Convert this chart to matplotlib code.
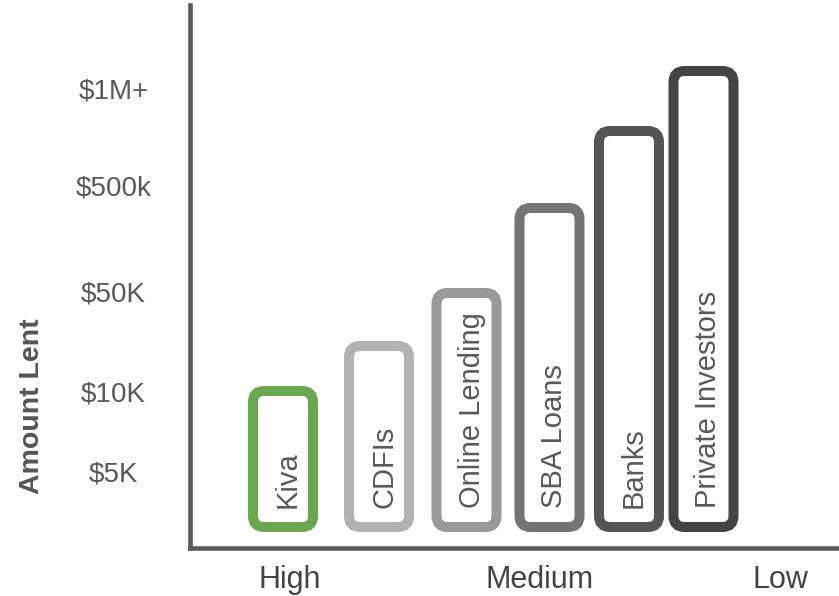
import matplotlib
matplotlib.use('Agg')
import matplotlib.pyplot as plt
from matplotlib.patches import FancyBboxPatch

# Lenders, ordered from most to least accessible
lenders = ['Kiva', 'CDFIs', 'Online Lending', 'SBA Loans', 'Banks', 'Private Investors']
# bar centres and tops, in the chart's own units (axis is 0 at the x-axis line)
bar_x = [0.93, 1.89, 2.765, 3.595, 4.39, 5.135]
bar_top = [1.57, 2.02, 2.55, 3.40, 4.17, 4.77]
bar_base = 0.21
bar_w = 0.60
colors = ['#6aa84f', '#b2b2b2', '#999999', '#747474', '#555555', '#444444']

ytick_pos = [0.76, 1.57, 2.57, 3.63, 4.60]
ytick_labels = ['$5K', '$10K', '$50K', '$500k', '$1M+']
xtick_pos = [1.00, 3.50, 5.90]
xtick_labels = ['High', 'Medium', 'Low']

plt.rcParams['font.family'] = ['Liberation Sans', 'DejaVu Sans']
txt = '#595959'

fig = plt.figure(figsize=(8.39, 5.96), dpi=100)
ax = fig.add_axes([190 / 839, 48 / 596, 649 / 839, 543 / 596])
ax.set_xlim(0, 6.49)
ax.set_ylim(0, 5.43)

for name, x, top, c in zip(lenders, bar_x, bar_top, colors):
    box = FancyBboxPatch((x - bar_w / 2, bar_base), bar_w, top - bar_base,
                         boxstyle='round,pad=0,rounding_size=0.11',
                         fc='white', ec=c, lw=7.2, zorder=2)
    ax.add_patch(box)
    ax.text(x + 0.05, bar_base + 0.19, name, rotation=90, rotation_mode='anchor',
            ha='left', va='center', fontsize=21, color=txt, zorder=3)

for s in ['top', 'right']:
    ax.spines[s].set_visible(False)
for s in ['left', 'bottom']:
    ax.spines[s].set_linewidth(3.3)
    ax.spines[s].set_color('#5a5a5a')

ax.set_yticks(ytick_pos)
ax.set_yticklabels(ytick_labels, fontsize=20, color=txt, ha='center')
ax.tick_params(axis='y', length=0, pad=55)
ax.set_xticks(xtick_pos)
ax.set_xticklabels(xtick_labels, fontsize=22, color='#444444')
ax.tick_params(axis='x', length=0, pad=12)

fig.text(32 / 839, 1 - 406 / 596, 'Amount Lent', rotation=90, ha='center', va='center',
         fontsize=20.5, fontweight='bold', color='#555555')

fig.savefig('out.png', dpi=100)
